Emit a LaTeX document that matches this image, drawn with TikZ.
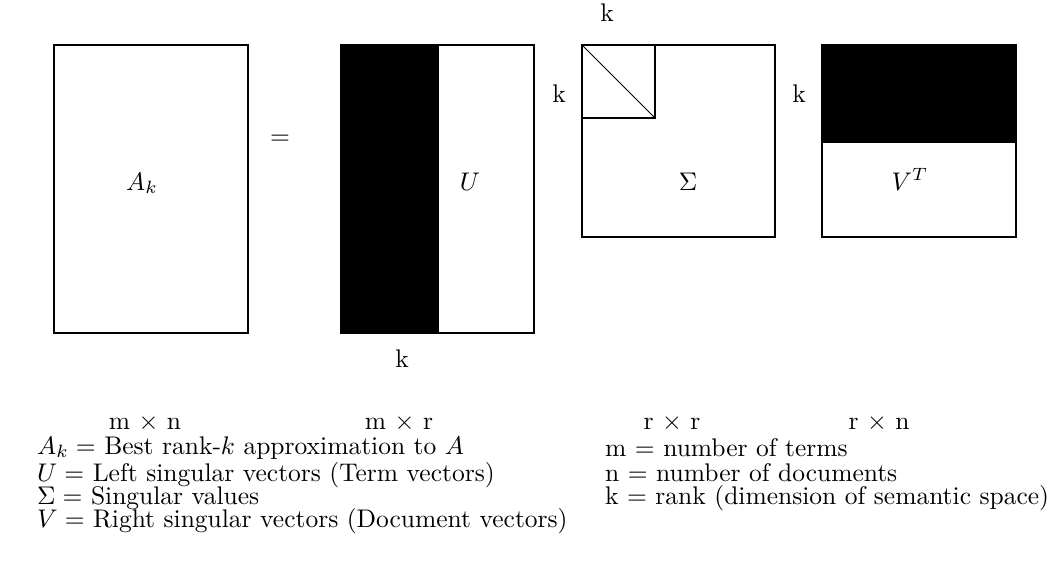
\documentclass[tikz,border=0pt]{standalone}
\usepackage{graphicx}
\newcommand{\bigt}[1]{\scalebox{2.55}{#1}}
\begin{document}
\begin{tikzpicture}[x=1pt,y=-1pt,
  lbl/.style={inner sep=0pt, anchor=base},
  lgd/.style={inner sep=0pt, anchor=base west},
  frame/.style={draw, line width=2pt},
  blk/.style={fill=black}]
\useasboundingbox[fill=white] (0,0) rectangle (1063,583);
% A_k
\draw[frame] (54,45) rectangle (248,333);
\node[lbl] (ak) at (142,190) {\bigt{$A_k$}};
\node[lbl] (eq) at (280,145) {\bigt{$=$}};
% U
\fill[blk] (341,45) rectangle (439,333);
\draw[frame] (341,45) rectangle (534,333);
\node[lbl] (u) at (470,190) {\bigt{$U$}};
\node[lbl] (ku) at (402,367) {\bigt{k}};
% Sigma
\draw[frame] (582,45) rectangle (775,237);
\draw[frame] (582,45) rectangle (655,118);
\draw[line width=0.8pt] (582,45) -- (655,118);
\node[lbl] (s) at (688,190) {\bigt{$\Sigma$}};
\node[lbl] (kst) at (607,22) {\bigt{k}};
\node[lbl] (ksl) at (559,103) {\bigt{k}};
% V^T
\fill[blk] (822,45) rectangle (1016,143);
\draw[frame] (822,45) rectangle (1016,237);
\node[lbl] (v) at (910,190) {\bigt{$V^T$}};
\node[lbl] (kv) at (799,103) {\bigt{k}};
% dimensions
\node[lbl] (d1) at (145,429) {\bigt{m $\times$ n}};
\node[lbl] (d2) at (399,429) {\bigt{m $\times$ r}};
\node[lbl] (d3) at (672,429) {\bigt{r $\times$ r}};
\node[lbl] (d4) at (879,429) {\bigt{r $\times$ n}};
% legend
\node[lgd] (l1) at (37,454) {\bigt{$A_k =$ Best rank-$k$ approximation to $A$}};
\node[lgd] (l2) at (37,481) {\bigt{$U =$ Left singular vectors (Term vectors)}};
\node[lgd] (l3) at (37,504) {\bigt{$\Sigma =$ Singular values}};
\node[lgd] (l4) at (37,527) {\bigt{$V =$ Right singular vectors (Document vectors)}};
\node[lgd] (r1) at (605,456) {\bigt{m = number of terms}};
\node[lgd] (r2) at (605,481) {\bigt{n = number of documents}};
\node[lgd] (r3) at (605,504) {\bigt{k = rank (dimension of semantic space)}};
\end{tikzpicture}
\end{document}
